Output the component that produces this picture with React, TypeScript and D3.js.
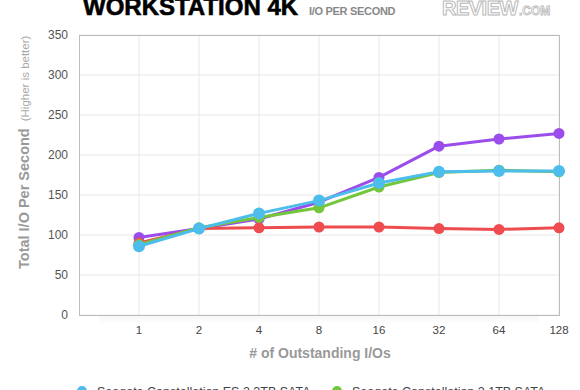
import React from "react";
import * as d3 from "d3";

const categories = ["1", "2", "4", "8", "16", "32", "64", "128"];
const yTicks = [0, 50, 100, 150, 200, 250, 300, 350];

const purpleValues = [97, 108, 120, 141, 172, 211, 220, 227];
const redValues = [90, 108, 109, 110, 110, 108, 107, 109];
const greenValues = [88, 109, 122, 134, 160, 178, 181, 179];
const blueValues = [86, 108, 127, 143, 165, 179, 180, 180];

const seriesNames = [
  "Seagate Constellation ES.2 3TB SATA",
  "Seagate Constellation.2 1TB SATA",
];

const series = [
  { key: "purple", values: purpleValues, color: "#9b4deb", r: 5.5 },
  { key: "red", values: redValues, color: "#ee4c4e", r: 5.5 },
  { key: "green", values: greenValues, color: "#74c63a", r: 5.5 },
  { key: "blue", values: blueValues, color: "#4dbdeb", r: 6 },
];

export default function App() {
  const W = 580, H = 390;
  const left = 79, right = 559, top = 35, bottom = 315;
  const x = d3
    .scalePoint<string>()
    .domain(["", ...categories])
    .range([left, right]);
  const y = d3.scaleLinear().domain([0, 350]).range([bottom, top]);
  const line = d3
    .line<number>()
    .x((_, i) => x(categories[i]) as number)
    .y((d) => y(d));

  return (
    <svg
      width={W}
      height={H}
      style={{ position: "absolute", left: 0, top: 0, background: "#fff" }}
      fontFamily="Liberation Sans, Arial, sans-serif"
    >
      <defs>
        <linearGradient id="shadow" x1="0" y1="0" x2="0" y2="1">
          <stop offset="0" stopColor="#000" stopOpacity="0.035" />
          <stop offset="1" stopColor="#000" stopOpacity="0" />
        </linearGradient>
      </defs>
      {/* Title */}
      <text x={83} y={15} fontSize={24} fontWeight="bold" fill="#000" stroke="#000" strokeWidth={0.6}>
        WORKSTATION 4K
      </text>
      <text x={309} y={15} fontSize={11} fontWeight="bold" fill="#888" letterSpacing={-0.3}>
        I/O PER SECOND
      </text>
      <text x={442} y={15} fontSize={20} fontWeight="bold" fill="#fff" stroke="#b8b8b8" strokeWidth={1} letterSpacing={-0.5}>
        REVIEW
      </text>
      <text x={519} y={15} fontSize={12} fontWeight="bold" fill="#fff" stroke="#b8b8b8" strokeWidth={0.8}>
        .COM
      </text>

      {/* shadow below plot */}
      <rect x={left + 20} y={bottom + 1} width={right - left - 40} height={8} fill="url(#shadow)" />

      {/* grid */}
      {yTicks.map((t) => (
        <line key={"h" + t} x1={left} x2={right} y1={y(t)} y2={y(t)} stroke="#e8e8e8" strokeWidth={1} />
      ))}
      {categories.map((c) => (
        <line key={"v" + c} x1={x(c)} x2={x(c)} y1={top} y2={bottom} stroke="#e8e8e8" strokeWidth={1} />
      ))}
      <rect x={left + 0.5} y={top + 0.5} width={right - left} height={bottom - top} fill="none" stroke="#bdbdbd" strokeWidth={1} />

      {/* y ticks */}
      {yTicks.map((t) => (
        <text key={"yt" + t} x={68} y={y(t) + 4} fontSize={12} textAnchor="end" fill="#555">
          {t}
        </text>
      ))}
      {/* x ticks */}
      {categories.map((c) => (
        <text key={"xt" + c} x={x(c)} y={334} fontSize={11.5} textAnchor="middle" fill="#444">
          {c}
        </text>
      ))}

      {/* axis titles */}
      <text transform="translate(29,269) rotate(-90)" fontSize={14.5} fontWeight="bold" fill="#999">
        Total I/O Per Second
        <tspan dx={7} fontSize={11.5} fontWeight="normal" fill="#aaa">(Higher is better)</tspan>
      </text>
      <text x={320} y={358} fontSize={14} fontWeight="bold" fill="#999" textAnchor="middle">
        # of Outstanding I/Os
      </text>

      {/* series */}
      {series.map((s) => (
        <g key={s.key}>
          <path d={line(s.values) || ""} fill="none" stroke={s.color} strokeWidth={3} strokeLinejoin="round" />
          {s.values.map((v, i) => (
            <circle key={i} cx={x(categories[i])} cy={y(v)} r={s.r} fill={s.color} />
          ))}
        </g>
      ))}

      {/* legend */}
      <circle cx={82} cy={391} r={5} fill="#4dbdeb" />
      <text x={97} y={396} fontSize={12.5} fill="#444">{seriesNames[0]}</text>
      <circle cx={337} cy={391} r={5} fill="#74c63a" />
      <text x={352} y={396} fontSize={12.5} fill="#444">{seriesNames[1]}</text>
    </svg>
  );
}
